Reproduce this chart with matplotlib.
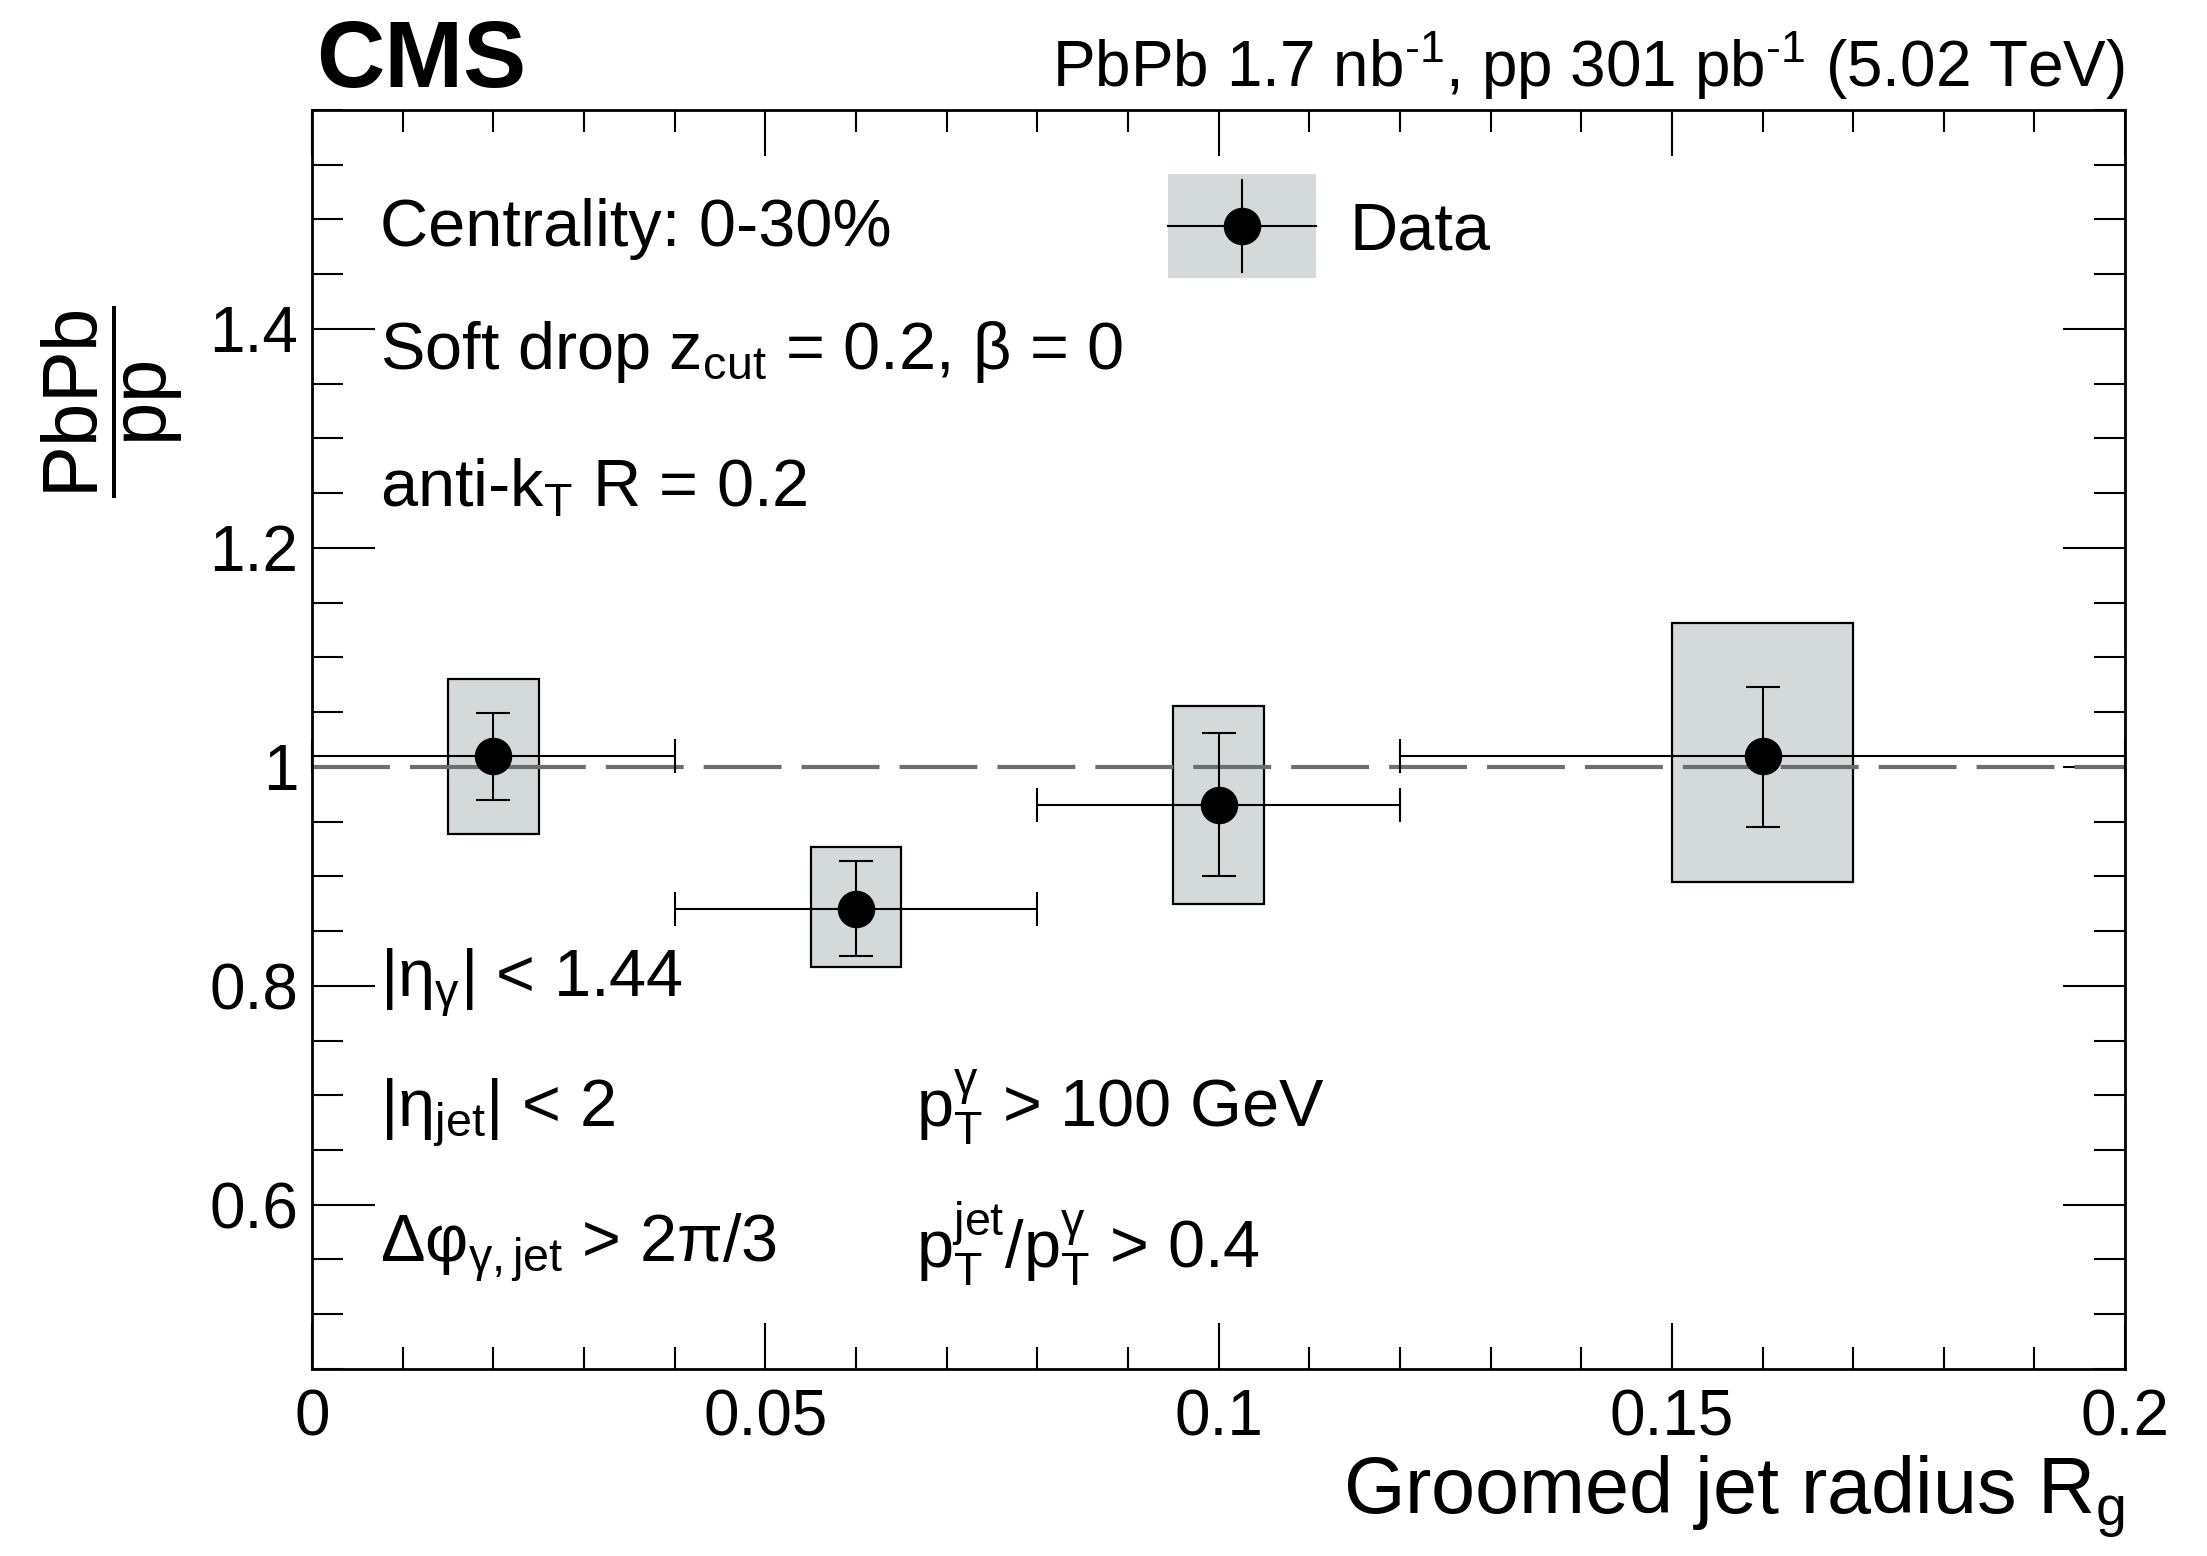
import matplotlib
matplotlib.use('Agg')
import matplotlib.pyplot as plt
from matplotlib.patches import Patch, Rectangle
from matplotlib.lines import Line2D
from matplotlib.legend_handler import HandlerBase
from matplotlib.ticker import MultipleLocator, FixedLocator, FixedFormatter
import numpy as np

plt.rcParams['font.family'] = ['Liberation Sans', 'DejaVu Sans']
plt.rcParams['mathtext.fontset'] = 'custom'
plt.rcParams['mathtext.rm'] = 'Liberation Sans'
plt.rcParams['mathtext.it'] = 'Liberation Sans:italic'
plt.rcParams['mathtext.bf'] = 'Liberation Sans:bold'
plt.rcParams['mathtext.sf'] = 'Liberation Sans'
plt.rcParams['mathtext.default'] = 'regular'

# ---- data ----
bin_lo = [0.0, 0.04, 0.08, 0.12]
bin_hi = [0.04, 0.08, 0.12, 0.20]
ratio = [1.010, 0.870, 0.965, 1.010]
stat_lo = [0.970, 0.827, 0.900, 0.945]
stat_hi = [1.049, 0.914, 1.031, 1.073]
sys_lo = [0.939, 0.817, 0.875, 0.895]
sys_hi = [1.080, 0.927, 1.056, 1.131]

xticks = [0, 0.05, 0.1, 0.15, 0.2]
xticklabels = ['0', '0.05', '0.1', '0.15', '0.2']
yticks = [0.6, 0.8, 1.0, 1.2, 1.4]
yticklabels = ['0.6', '0.8', '1', '1.2', '1.4']

FILL = '#d4d9d9'
TXT = 48

fig = plt.figure(figsize=(22.07, 15.56), dpi=100)
ax = fig.add_axes([0.1414, 0.1202, 0.8215, 0.8091])

lo = np.array(bin_lo); hi = np.array(bin_hi)
xc = 0.5 * (lo + hi)
bw = hi - lo
r = np.array(ratio)
slo = np.array(sys_lo); shi = np.array(sys_hi)
tlo = np.array(stat_lo); thi = np.array(stat_hi)

# systematic boxes
ax.bar(xc, shi - slo, bottom=slo, width=0.25 * bw, color=FILL,
       edgecolor='black', linewidth=1.6, zorder=1)

# reference line
ax.axhline(1.0, color='#6e6e6e', lw=3, dashes=(18.7, 4.8), zorder=2)

# data points
ax.errorbar(xc, r, xerr=[xc - lo, hi - xc], yerr=[r - tlo, thi - r],
            fmt='o', color='black', ms=26, elinewidth=1.5, capsize=12,
            capthick=1.5, zorder=3, clip_on=False)

ax.set_xlim(0, 0.2)
ax.set_ylim(0.45, 1.6)

ax.xaxis.set_major_locator(FixedLocator(xticks))
ax.xaxis.set_major_formatter(FixedFormatter(xticklabels))
ax.xaxis.set_minor_locator(MultipleLocator(0.01))
ax.yaxis.set_major_locator(FixedLocator(yticks))
ax.yaxis.set_major_formatter(FixedFormatter(yticklabels))
ax.yaxis.set_minor_locator(MultipleLocator(0.05))

ax.tick_params(axis='x', which='major', direction='in', length=33, width=1.5,
               top=True, bottom=True, labelsize=46, pad=14)
ax.tick_params(axis='x', which='minor', direction='in', length=16, width=1.5,
               top=True, bottom=True)
ax.tick_params(axis='y', which='major', direction='in', length=45, width=1.5,
               left=True, right=True, labelsize=46, pad=10)
ax.tick_params(axis='y', which='minor', direction='in', length=22, width=1.5,
               left=True, right=True)
for s in ax.spines.values():
    s.set_linewidth(2)


# legend: data point with stat bars on a systematic box
class DataHandler(HandlerBase):
    def create_artists(self, legend, orig_handle, xdescent, ydescent,
                       width, height, fontsize, trans):
        yc = (height - ydescent) / 2.0 - 9.6
        x0 = -xdescent
        xm = x0 + width / 2.0
        box_h, bar_h = 75.0, 66.0
        rect = Rectangle((x0, yc - box_h / 2), width, box_h, facecolor=FILL,
                         edgecolor='none', transform=trans)
        hl = Line2D([x0, x0 + width], [yc, yc], color='black', lw=1.5, transform=trans)
        vl = Line2D([xm, xm], [yc - bar_h / 2, yc + bar_h / 2], color='black', lw=1.5,
                    transform=trans)
        mk = Line2D([xm], [yc], color='black', lw=0, marker='o', ms=26, transform=trans)
        return [rect, hl, vl, mk]


proxy = Patch(facecolor=FILL)
ax.legend([proxy], ['Data'], handler_map={Patch: DataHandler()},
          loc='center left', bbox_to_anchor=(0.472, 0.906),
          frameon=False, fontsize=TXT, handlelength=2.22, handleheight=2.05,
          handletextpad=0.5, borderpad=0, borderaxespad=0)

# annotations
tx = 0.0373
ax.text(tx, 0.8916, 'Centrality: 0-30%', transform=ax.transAxes, fontsize=TXT, va='baseline')
ax.text(tx, 0.7944, r'Soft drop z$_{cut}$ = 0.2, $\beta$ = 0', transform=ax.transAxes, fontsize=TXT, va='baseline')
ax.text(tx, 0.6849, r'anti-k$_{T}$ R = 0.2', transform=ax.transAxes, fontsize=TXT, va='baseline')
ax.text(tx, 0.296, r'|$\eta_{\gamma}$| < 1.44', transform=ax.transAxes, fontsize=TXT, va='baseline')
ax.text(tx, 0.1924, r'|$\eta_{jet}$| < 2', transform=ax.transAxes, fontsize=TXT, va='baseline')
ax.text(tx, 0.085, r'$\Delta\varphi_{\gamma,jet}$ > 2$\pi$/3', transform=ax.transAxes, fontsize=TXT, va='baseline')
ax.text(0.333, 0.1924, r'p$_{T}^{\gamma}$ > 100 GeV', transform=ax.transAxes, fontsize=TXT, va='baseline')
ax.text(0.333, 0.080, r'p$_{T}^{jet}$/p$_{T}^{\gamma}$ > 0.4', transform=ax.transAxes, fontsize=TXT, va='baseline')

# header
ax.text(0.002, 1.018, 'CMS', transform=ax.transAxes, fontsize=68, fontweight='bold', va='baseline')
ax.text(1.0, 1.018, 'PbPb 1.7 nb$^{\u2010' + '1}$, pp 301 pb$^{\u2010' + '1}$ (5.02 TeV)',
        transform=ax.transAxes, fontsize=46, ha='right', va='baseline')

# axis titles
fig.text(0.9629, 0.0276, r'Groomed jet radius R$_{g}$', fontsize=57, ha='right', va='baseline')
fig.text(0.051, 0.742, r'$\dfrac{PbPb}{pp}$', fontsize=56, rotation=90, ha='center', va='center')

fig.savefig('out.png', dpi=100)
